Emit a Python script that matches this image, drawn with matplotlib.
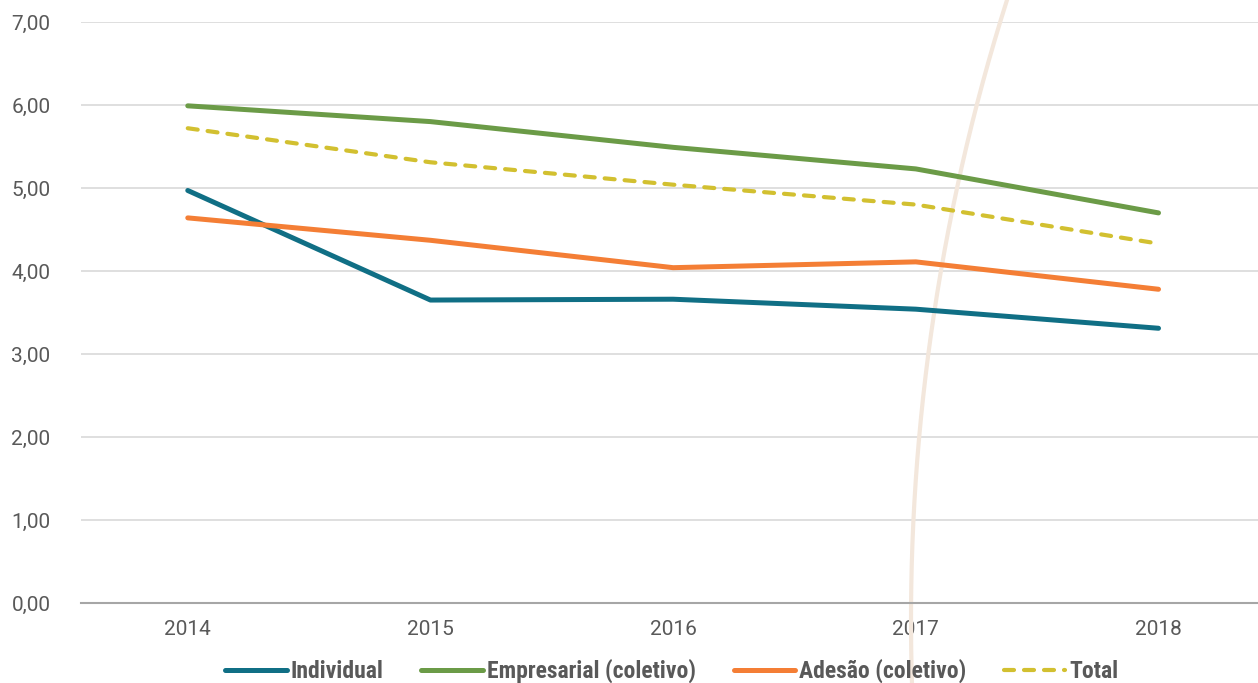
import numpy as np
import matplotlib.pyplot as plt

anos = ['2014', '2015', '2016', '2017', '2018']
individual = [4.97, 3.65, 3.66, 3.54, 3.31]
empresarial = [5.99, 5.80, 5.49, 5.23, 4.70]
adesao = [4.64, 4.37, 4.04, 4.11, 3.78]
total = [5.72, 5.31, 5.04, 4.80, 4.33]

plt.rcParams['font.family'] = ['Roboto', 'DejaVu Sans']

fig = plt.figure(figsize=(12.58, 6.83), dpi=100)
ax = fig.add_axes([81 / 1258, 80 / 683, 1 - 81 / 1258, 581 / 683])

x = np.arange(len(anos))
ax.plot(x, individual, color='#106f85', lw=3.6, solid_capstyle='round', label='Individual', zorder=3)
ax.plot(x, empresarial, color='#6b9b47', lw=3.6, solid_capstyle='round', label='Empresarial (coletivo)', zorder=3)
ax.plot(x, adesao, color='#f47e35', lw=3.6, solid_capstyle='round', label='Adesão (coletivo)', zorder=3)
ax.plot(x, total, color='#d2c030', lw=3.0, dashes=(2.4, 2.4), dash_capstyle='round', label='Total', zorder=3)

# decorative background arc (in figure pixels)
yy = np.linspace(-5, 690, 200)
R = 2050
xx = 911 + R - np.sqrt(R ** 2 - (yy - 620) ** 2)
ax.plot(xx / 1258, 1 - yy / 683, color='#f3e7dc', lw=3.0, transform=fig.transFigure,
        clip_on=False, zorder=1.5)

ax.set_xlim(-0.44, 4.41)
ax.set_ylim(0, 7)
ax.set_xticks(x)
ax.set_xticklabels(anos)
ax.set_yticks(range(8))
ax.set_yticklabels(['%d,00' % v for v in range(8)])
ax.tick_params(length=0, labelsize=15, labelcolor='#595959')
ax.tick_params(axis='y', pad=22)
ax.tick_params(axis='x', pad=12)
ax.grid(axis='y', color='#d9d9d9', lw=1.2)
ax.set_axisbelow(True)
for s in ['top', 'right', 'left']:
    ax.spines[s].set_visible(False)
ax.spines['bottom'].set_color('#a6a6a6')
ax.spines['bottom'].set_linewidth(1.5)

leg = fig.legend(loc='center', bbox_to_anchor=(672 / 1258, 1 - 671 / 683), ncol=4, frameon=False,
                 handlelength=2.6, handletextpad=0.17, columnspacing=1.6,
                 prop={'family': ['Roboto Condensed', 'Roboto'], 'weight': 'bold', 'size': 17})
for t in leg.get_texts():
    t.set_color('#595959')

fig.savefig('out.png', dpi=100)
